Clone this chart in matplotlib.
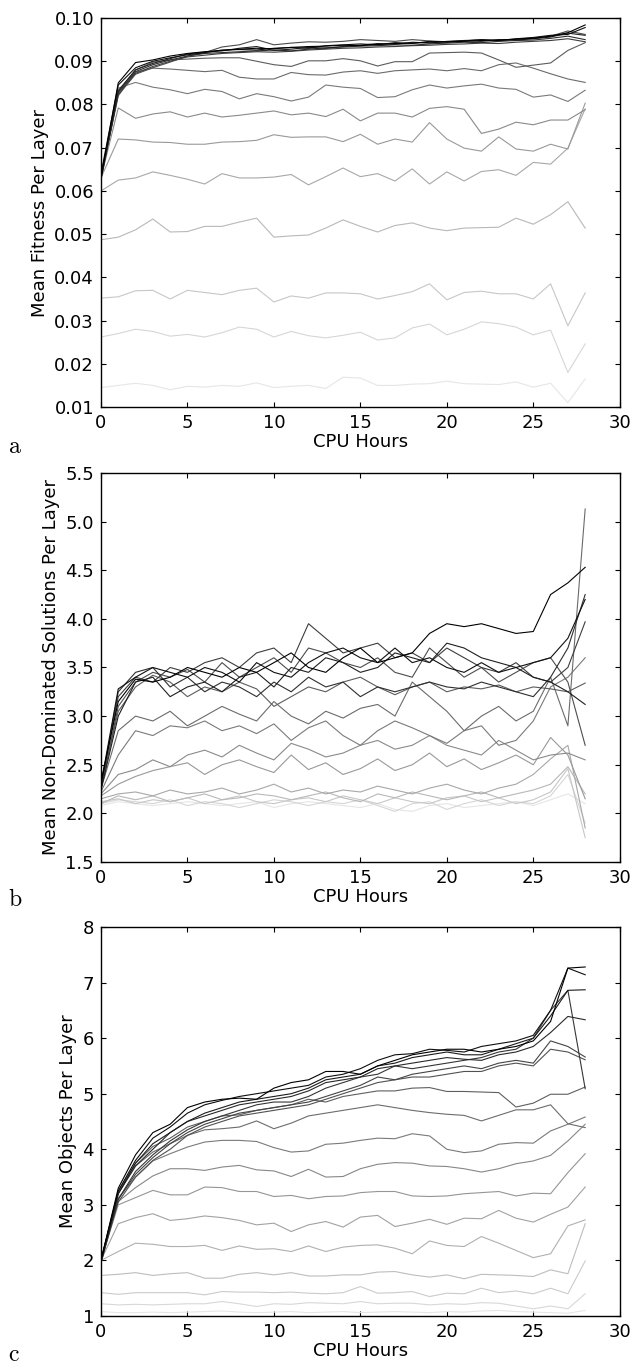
#!/usr/bin/python3
import numpy as np
import matplotlib
matplotlib.use('Agg')
import matplotlib.pyplot as plt

plt.rcParams['mathtext.fontset'] = 'cm'

# CPU hours sampled (one point per hour)
hours = list(range(29))

# (a) mean fitness per layer, lightest run first
fit_1 = [0.0145, 0.0150, 0.0155, 0.0150, 0.0140, 0.0148, 0.0146, 0.0150, 0.0148, 0.0156, 0.0145, 0.0148, 0.0150, 0.0143, 0.0169, 0.0167,
         0.0150, 0.0150, 0.0153, 0.0154, 0.0160, 0.0154, 0.0153, 0.0152, 0.0158, 0.0146, 0.0155, 0.0110, 0.0165]
fit_2 = [0.0262, 0.0270, 0.0280, 0.0275, 0.0264, 0.0268, 0.0262, 0.0272, 0.0285, 0.0280, 0.0262, 0.0275, 0.0265, 0.0260, 0.0266, 0.0273,
         0.0255, 0.0260, 0.0283, 0.0292, 0.0267, 0.0280, 0.0297, 0.0293, 0.0285, 0.0267, 0.0278, 0.0180, 0.0246]
fit_3 = [0.0352, 0.0355, 0.0369, 0.0370, 0.0350, 0.0370, 0.0365, 0.0360, 0.0370, 0.0375, 0.0343, 0.0357, 0.0352, 0.0364, 0.0364, 0.0362,
         0.0350, 0.0358, 0.0367, 0.0385, 0.0348, 0.0365, 0.0368, 0.0362, 0.0362, 0.0350, 0.0385, 0.0288, 0.0364]
fit_4 = [0.0487, 0.0493, 0.0510, 0.0535, 0.0505, 0.0506, 0.0518, 0.0518, 0.0528, 0.0537, 0.0493, 0.0496, 0.0498, 0.0514, 0.0533, 0.0518,
         0.0505, 0.0520, 0.0526, 0.0514, 0.0508, 0.0514, 0.0515, 0.0516, 0.0537, 0.0523, 0.0545, 0.0575, 0.0514]
fit_5 = [0.0600, 0.0625, 0.0630, 0.0644, 0.0636, 0.0627, 0.0616, 0.0640, 0.0630, 0.0630, 0.0632, 0.0638, 0.0614, 0.0633, 0.0653, 0.0633,
         0.0640, 0.0623, 0.0651, 0.0616, 0.0644, 0.0623, 0.0645, 0.0649, 0.0636, 0.0666, 0.0662, 0.0699, 0.0790]
fit_6 = [0.0630, 0.0720, 0.0718, 0.0713, 0.0712, 0.0708, 0.0708, 0.0713, 0.0714, 0.0717, 0.0730, 0.0724, 0.0725, 0.0725, 0.0714, 0.0731,
         0.0708, 0.0720, 0.0713, 0.0758, 0.0720, 0.0699, 0.0692, 0.0725, 0.0697, 0.0692, 0.0708, 0.0697, 0.0803]
fit_7 = [0.0630, 0.0792, 0.0768, 0.0778, 0.0783, 0.0771, 0.0780, 0.0771, 0.0775, 0.0780, 0.0785, 0.0776, 0.0780, 0.0772, 0.0789, 0.0762,
         0.0780, 0.0780, 0.0771, 0.0791, 0.0795, 0.0789, 0.0733, 0.0743, 0.0759, 0.0753, 0.0764, 0.0764, 0.0788]
fit_8 = [0.0630, 0.0838, 0.0851, 0.0840, 0.0834, 0.0825, 0.0835, 0.0830, 0.0813, 0.0825, 0.0818, 0.0808, 0.0817, 0.0845, 0.0840, 0.0837,
         0.0816, 0.0818, 0.0834, 0.0845, 0.0838, 0.0843, 0.0847, 0.0838, 0.0835, 0.0817, 0.0822, 0.0807, 0.0833]
fit_9 = [0.0630, 0.0820, 0.0875, 0.0884, 0.0882, 0.0879, 0.0876, 0.0879, 0.0863, 0.0859, 0.0859, 0.0874, 0.0869, 0.0868, 0.0875, 0.0878,
         0.0872, 0.0878, 0.0880, 0.0882, 0.0878, 0.0883, 0.0878, 0.0892, 0.0896, 0.0884, 0.0871, 0.0859, 0.0851]
fit_10 = [0.0630, 0.0830, 0.0880, 0.0898, 0.0903, 0.0905, 0.0907, 0.0908, 0.0908, 0.0900, 0.0892, 0.0888, 0.0901, 0.0901, 0.0906, 0.0901,
          0.0889, 0.0899, 0.0899, 0.0919, 0.0920, 0.0921, 0.0919, 0.0903, 0.0886, 0.0891, 0.0896, 0.0925, 0.0943]
fit_11 = [0.0635, 0.0822, 0.0870, 0.0885, 0.0898, 0.0912, 0.0920, 0.0933, 0.0938, 0.0950, 0.0938, 0.0942, 0.0945, 0.0944, 0.0946, 0.0950,
          0.0948, 0.0946, 0.0950, 0.0947, 0.0945, 0.0948, 0.0950, 0.0947, 0.0951, 0.0954, 0.0958, 0.0970, 0.0962]
fit_12 = [0.0630, 0.0825, 0.0872, 0.0888, 0.0900, 0.0910, 0.0914, 0.0918, 0.0920, 0.0922, 0.0921, 0.0923, 0.0926, 0.0928, 0.0930, 0.0931,
          0.0933, 0.0934, 0.0936, 0.0937, 0.0939, 0.0940, 0.0942, 0.0941, 0.0944, 0.0946, 0.0948, 0.0952, 0.0945]
fit_13 = [0.0625, 0.0828, 0.0876, 0.0892, 0.0903, 0.0912, 0.0918, 0.0920, 0.0922, 0.0924, 0.0926, 0.0924, 0.0928, 0.0931, 0.0933, 0.0935,
          0.0936, 0.0938, 0.0937, 0.0940, 0.0942, 0.0944, 0.0943, 0.0946, 0.0948, 0.0949, 0.0953, 0.0958, 0.0950]
fit_14 = [0.0630, 0.0832, 0.0880, 0.0895, 0.0906, 0.0917, 0.0921, 0.0924, 0.0930, 0.0934, 0.0925, 0.0928, 0.0932, 0.0930, 0.0934, 0.0937,
          0.0941, 0.0939, 0.0944, 0.0942, 0.0946, 0.0948, 0.0946, 0.0950, 0.0949, 0.0952, 0.0956, 0.0965, 0.0960]
fit_15 = [0.0640, 0.0845, 0.0885, 0.0900, 0.0908, 0.0915, 0.0920, 0.0926, 0.0927, 0.0926, 0.0930, 0.0932, 0.0930, 0.0936, 0.0938, 0.0940,
          0.0938, 0.0943, 0.0941, 0.0946, 0.0944, 0.0947, 0.0950, 0.0948, 0.0952, 0.0955, 0.0960, 0.0962, 0.0978]
fit_16 = [0.0630, 0.0850, 0.0897, 0.0903, 0.0912, 0.0918, 0.0922, 0.0925, 0.0928, 0.0930, 0.0929, 0.0932, 0.0934, 0.0935, 0.0937, 0.0936,
          0.0939, 0.0941, 0.0942, 0.0944, 0.0945, 0.0946, 0.0948, 0.0949, 0.0951, 0.0953, 0.0958, 0.0966, 0.0984]

# (b) mean non-dominated solutions per layer
nds_1 = [2.08, 2.12, 2.10, 2.08, 2.10, 2.12, 2.10, 2.08, 2.10, 2.12, 2.06, 2.10, 2.12, 2.10, 2.08, 2.06, 2.10, 2.04, 2.02, 2.08,
         2.10, 2.06, 2.08, 2.10, 2.12, 2.08, 2.14, 2.20, 2.10]
nds_2 = [2.10, 2.14, 2.12, 2.10, 2.14, 2.08, 2.12, 2.10, 2.06, 2.10, 2.14, 2.12, 2.08, 2.12, 2.10, 2.14, 2.08, 2.02, 2.10, 2.12,
         2.04, 2.10, 2.14, 2.08, 2.12, 2.10, 2.18, 2.40, 1.90]
nds_3 = [2.12, 2.15, 2.10, 2.14, 2.12, 2.16, 2.10, 2.14, 2.18, 2.12, 2.10, 2.14, 2.16, 2.12, 2.18, 2.14, 2.10, 2.16, 2.12, 2.10,
         2.16, 2.18, 2.12, 2.16, 2.10, 2.14, 2.22, 2.46, 1.75]
nds_4 = [2.10, 2.18, 2.14, 2.18, 2.12, 2.16, 2.20, 2.14, 2.16, 2.20, 2.18, 2.14, 2.18, 2.22, 2.16, 2.12, 2.20, 2.16, 2.22, 2.18,
         2.14, 2.18, 2.22, 2.16, 2.20, 2.24, 2.30, 2.48, 2.20]
nds_5 = [2.15, 2.20, 2.22, 2.18, 2.24, 2.20, 2.22, 2.26, 2.20, 2.24, 2.30, 2.22, 2.26, 2.20, 2.24, 2.22, 2.28, 2.24, 2.20, 2.26,
         2.30, 2.24, 2.20, 2.26, 2.30, 2.40, 2.56, 2.70, 1.85]
nds_6 = [2.18, 2.30, 2.38, 2.44, 2.48, 2.52, 2.40, 2.50, 2.55, 2.48, 2.42, 2.60, 2.45, 2.52, 2.40, 2.46, 2.56, 2.44, 2.50, 2.62,
         2.48, 2.56, 2.45, 2.52, 2.60, 2.50, 2.78, 2.60, 2.15]
nds_7 = [2.20, 2.40, 2.45, 2.55, 2.48, 2.60, 2.65, 2.58, 2.70, 2.62, 2.55, 2.72, 2.66, 2.58, 2.62, 2.70, 2.75, 2.66, 2.70, 2.80,
         2.70, 2.65, 2.60, 2.75, 2.65, 2.55, 2.60, 2.62, 2.55]
nds_8 = [2.22, 2.60, 2.85, 2.80, 2.90, 2.88, 2.95, 2.85, 2.90, 2.82, 2.92, 2.75, 2.88, 2.95, 2.80, 2.70, 2.85, 2.95, 2.88, 2.80,
         2.72, 2.85, 2.90, 2.70, 2.75, 2.95, 3.30, 3.40, 3.60]
nds_9 = [2.25, 2.85, 3.00, 2.95, 3.05, 2.90, 3.00, 3.10, 3.02, 2.95, 3.15, 3.00, 2.92, 3.05, 2.98, 3.08, 3.12, 3.00, 3.35, 3.20,
         3.05, 2.85, 3.00, 3.10, 2.95, 3.05, 3.40, 2.90, 5.13]
nds_10 = [2.28, 3.05, 3.30, 3.42, 3.35, 3.20, 3.30, 3.25, 3.35, 3.28, 3.10, 3.20, 3.30, 3.25, 3.35, 3.40, 3.30, 3.22, 3.30, 3.35,
          3.25, 3.30, 3.28, 3.32, 3.25, 3.30, 3.28, 3.25, 3.34]
nds_11 = [2.25, 3.10, 3.35, 3.45, 3.40, 3.48, 3.35, 3.55, 3.40, 3.50, 3.60, 3.45, 3.70, 3.65, 3.55, 3.50, 3.60, 3.45, 3.40, 3.70,
          3.55, 3.40, 3.50, 3.35, 3.45, 3.55, 3.60, 3.35, 2.70]
nds_12 = [2.30, 3.20, 3.40, 3.35, 3.50, 3.45, 3.55, 3.60, 3.50, 3.65, 3.70, 3.55, 3.95, 3.80, 3.65, 3.70, 3.75, 3.60, 3.65, 3.55,
          3.70, 3.60, 3.50, 3.45, 3.55, 3.40, 3.35, 3.50, 3.97]
nds_13 = [2.26, 3.25, 3.45, 3.50, 3.30, 3.40, 3.25, 3.35, 3.30, 3.20, 3.35, 3.25, 3.40, 3.30, 3.35, 3.20, 3.30, 3.25, 3.30, 3.35,
          3.30, 3.28, 3.35, 3.30, 3.25, 3.20, 3.40, 3.70, 4.25]
nds_14 = [2.24, 3.00, 3.35, 3.40, 3.20, 3.30, 3.35, 3.25, 3.40, 3.45, 3.30, 3.50, 3.45, 3.60, 3.55, 3.45, 3.50, 3.65, 3.60, 3.55,
          3.75, 3.70, 3.60, 3.55, 3.50, 3.40, 3.35, 3.25, 3.12]
nds_15 = [2.30, 3.28, 3.40, 3.50, 3.45, 3.40, 3.50, 3.45, 3.35, 3.55, 3.45, 3.40, 3.55, 3.65, 3.70, 3.60, 3.55, 3.70, 3.55, 3.60,
          3.50, 3.45, 3.55, 3.45, 3.50, 3.55, 3.60, 3.80, 4.20]
nds_16 = [2.32, 3.15, 3.38, 3.35, 3.40, 3.50, 3.45, 3.40, 3.50, 3.45, 3.55, 3.65, 3.50, 3.45, 3.60, 3.70, 3.55, 3.60, 3.65, 3.85,
          3.95, 3.92, 3.95, 3.90, 3.85, 3.87, 4.25, 4.37, 4.53]

# (c) mean objects per layer
obj_1 = [1.08, 1.06, 1.06, 1.07, 1.06, 1.07, 1.08, 1.09, 1.07, 1.06, 1.07, 1.08, 1.06, 1.07, 1.08, 1.06, 1.07, 1.08, 1.07, 1.06,
         1.08, 1.07, 1.09, 1.10, 1.08, 1.07, 1.06, 1.05, 1.10]
obj_2 = [1.22, 1.20, 1.21, 1.20, 1.21, 1.22, 1.22, 1.26, 1.22, 1.17, 1.22, 1.21, 1.24, 1.23, 1.22, 1.26, 1.22, 1.23, 1.23, 1.20,
         1.22, 1.21, 1.24, 1.23, 1.18, 1.13, 1.18, 1.13, 1.40]
obj_3 = [1.42, 1.39, 1.42, 1.42, 1.42, 1.42, 1.38, 1.44, 1.43, 1.43, 1.42, 1.43, 1.41, 1.40, 1.42, 1.53, 1.41, 1.42, 1.44, 1.35,
         1.41, 1.40, 1.50, 1.42, 1.45, 1.40, 1.50, 1.40, 1.99]
obj_4 = [1.73, 1.75, 1.78, 1.73, 1.76, 1.78, 1.68, 1.68, 1.75, 1.78, 1.74, 1.78, 1.72, 1.72, 1.74, 1.74, 1.79, 1.80, 1.74, 1.70,
         1.74, 1.67, 1.75, 1.74, 1.73, 1.71, 1.83, 1.76, 2.66]
obj_5 = [2.00, 2.16, 2.31, 2.29, 2.25, 2.25, 2.27, 2.18, 2.26, 2.20, 2.21, 2.16, 2.26, 2.16, 2.24, 2.27, 2.28, 2.22, 2.12, 2.35,
         2.27, 2.25, 2.43, 2.31, 2.18, 2.05, 2.12, 2.62, 2.73]
obj_6 = [2.00, 2.66, 2.77, 2.84, 2.72, 2.75, 2.80, 2.77, 2.72, 2.64, 2.67, 2.52, 2.64, 2.70, 2.60, 2.78, 2.81, 2.61, 2.67, 2.74,
         2.65, 2.76, 2.75, 2.90, 2.76, 2.69, 2.83, 2.96, 3.32]
obj_7 = [2.00, 3.00, 3.13, 3.26, 3.18, 3.18, 3.32, 3.31, 3.24, 3.24, 3.15, 3.17, 3.11, 3.15, 3.16, 3.22, 3.24, 3.24, 3.16, 3.15,
         3.16, 3.20, 3.22, 3.24, 3.16, 3.21, 3.20, 3.58, 3.92]
obj_8 = [2.00, 3.06, 3.31, 3.52, 3.65, 3.65, 3.62, 3.68, 3.71, 3.63, 3.61, 3.51, 3.64, 3.50, 3.51, 3.65, 3.73, 3.76, 3.75, 3.70,
         3.69, 3.65, 3.59, 3.65, 3.74, 3.79, 3.89, 4.15, 4.45]
obj_9 = [2.00, 3.12, 3.50, 3.79, 3.92, 4.04, 4.13, 4.16, 4.16, 4.14, 4.03, 3.95, 3.97, 4.09, 4.11, 4.16, 4.20, 4.19, 4.28, 4.24,
         4.00, 3.94, 3.97, 4.09, 4.12, 4.11, 4.33, 4.45, 4.58]
obj_10 = [2.00, 3.22, 3.70, 3.95, 4.10, 4.25, 4.35, 4.37, 4.40, 4.51, 4.37, 4.47, 4.60, 4.65, 4.70, 4.75, 4.80, 4.75, 4.70, 4.66,
          4.63, 4.61, 4.51, 4.61, 4.71, 4.71, 4.80, 4.46, 4.39]
obj_11 = [2.00, 3.25, 3.75, 4.05, 4.20, 4.40, 4.50, 4.60, 4.62, 4.70, 4.75, 4.80, 4.90, 4.85, 4.95, 5.00, 5.05, 5.05, 5.10, 5.11,
          5.04, 5.04, 5.03, 5.02, 4.76, 4.83, 4.99, 4.99, 5.12]
obj_12 = [2.00, 3.05, 3.50, 3.80, 4.00, 4.25, 4.40, 4.50, 4.60, 4.65, 4.70, 4.75, 4.80, 4.90, 5.00, 5.10, 5.20, 5.25, 5.30, 5.30,
          5.35, 5.40, 5.40, 5.50, 5.55, 5.50, 5.80, 5.75, 5.61]
obj_13 = [1.95, 3.10, 3.55, 3.85, 4.10, 4.30, 4.45, 4.55, 4.65, 4.70, 4.75, 4.80, 4.85, 4.95, 5.05, 5.15, 5.30, 5.25, 5.35, 5.40,
          5.45, 5.50, 5.45, 5.55, 5.60, 5.55, 5.95, 5.85, 5.66]
obj_14 = [2.00, 3.10, 3.60, 3.90, 4.15, 4.35, 4.50, 4.60, 4.70, 4.80, 4.85, 4.85, 4.95, 5.10, 5.20, 5.30, 5.35, 5.50, 5.45, 5.50,
          5.55, 5.60, 5.65, 5.75, 5.80, 6.00, 6.50, 6.86, 5.09]
obj_15 = [2.00, 3.20, 3.70, 4.00, 4.30, 4.50, 4.60, 4.70, 4.80, 4.85, 4.90, 4.95, 5.05, 5.20, 5.25, 5.30, 5.45, 5.50, 5.55, 5.60,
          5.65, 5.62, 5.60, 5.70, 5.75, 5.85, 6.10, 6.39, 6.33]
obj_16 = [1.95, 3.20, 3.75, 4.10, 4.30, 4.50, 4.65, 4.75, 4.85, 4.90, 4.95, 5.00, 5.10, 5.25, 5.30, 5.35, 5.50, 5.55, 5.65, 5.70,
          5.75, 5.70, 5.70, 5.80, 5.90, 6.00, 6.40, 6.86, 6.87]
obj_17 = [2.00, 3.25, 3.80, 4.20, 4.40, 4.65, 4.80, 4.88, 4.95, 5.00, 5.05, 5.10, 5.15, 5.30, 5.35, 5.45, 5.60, 5.70, 5.72, 5.80,
          5.78, 5.75, 5.85, 5.90, 5.95, 6.05, 6.50, 7.26, 7.14]
obj_18 = [2.00, 3.30, 3.90, 4.30, 4.45, 4.75, 4.85, 4.90, 4.92, 4.90, 5.10, 5.20, 5.25, 5.40, 5.40, 5.35, 5.50, 5.60, 5.70, 5.75,
          5.80, 5.80, 5.75, 5.80, 5.85, 5.95, 6.30, 7.26, 7.28]

fitness = [fit_1, fit_2, fit_3, fit_4, fit_5, fit_6, fit_7, fit_8, fit_9, fit_10, fit_11, fit_12, fit_13, fit_14, fit_15, fit_16]
nondom = [nds_1, nds_2, nds_3, nds_4, nds_5, nds_6, nds_7, nds_8, nds_9, nds_10, nds_11, nds_12, nds_13, nds_14, nds_15, nds_16]
objects = [obj_1, obj_2, obj_3, obj_4, obj_5, obj_6, obj_7, obj_8, obj_9, obj_10, obj_11, obj_12, obj_13, obj_14, obj_15,
           obj_16, obj_17, obj_18]

panels = [
    ('a', fitness, 'Mean Fitness Per Layer', (0.01, 0.10), np.arange(0.01, 0.1001, 0.01), '%.2f', 0.7018),
    ('b', nondom, 'Mean Non-Dominated Solutions Per Layer', (1.5, 5.5), np.arange(1.5, 5.51, 0.5), '%.1f', 0.3685),
    ('c', objects, 'Mean Objects Per Layer', (1, 8), np.arange(1, 9), '%d', 0.0359),
]
# y position (figure fraction) of the panel letters
letter_y = [0.668, 0.336, 0.003]

fig = plt.figure(figsize=(6.35, 13.65), dpi=100)

for (letter, runs, ylabel, ylim, yticks, fmt, bottom), ly in zip(panels, letter_y):
    ax = fig.add_axes([0.159, bottom, 0.817, 0.285])
    # light grey for the first run, black for the last
    greys = np.linspace(0.9, 0.0, len(runs))
    for run, g in zip(runs, greys):
        ax.plot(hours, run, color=str(g), lw=0.8)

    ax.set_xlim(0, 30)
    ax.set_ylim(*ylim)
    ax.set_xticks(range(0, 31, 5))
    ax.set_yticks(yticks)
    ax.set_yticklabels([fmt % v for v in yticks])
    ax.tick_params(direction='in', top=True, right=True, length=3.5, width=0.8,
                   labelsize=13, pad=5)
    for s in ax.spines.values():
        s.set_linewidth(1.0)
    ax.set_xlabel('CPU Hours', fontsize=13, labelpad=1)
    ax.set_ylabel(ylabel, fontsize=13, labelpad=4)

    fig.text(0.012, ly, r'$\mathrm{%s}$' % letter, fontsize=17)

plt.savefig('out.png', dpi=100)
